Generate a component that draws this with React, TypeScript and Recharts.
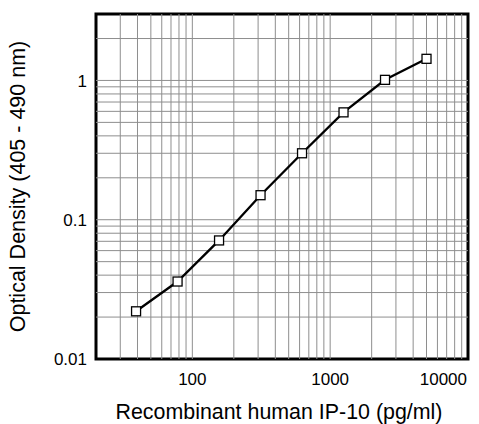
import React from "react"
import { LineChart, Line, XAxis, YAxis, ReferenceLine, ReferenceArea, Label } from "recharts"

// standard curve, IP-10 (pg/ml) vs optical density
const concentration = [39.06, 78.13, 156.25, 312.5, 625, 1250, 2500, 5000]
const opticalDensity = [0.022, 0.036, 0.071, 0.15, 0.3, 0.59, 1.01, 1.43]

const xTicks = [100, 1000, 10000]
const yTicks = [0.01, 0.1, 1]
const xGrid = [30, 40, 50, 60, 70, 80, 90, 100, 200, 300, 400, 500, 600, 700, 800, 900, 1000, 2000, 3000, 4000, 5000, 6000, 7000, 8000, 9000]
const yGrid = [0.02, 0.03, 0.04, 0.05, 0.06, 0.07, 0.08, 0.09, 0.1, 0.2, 0.3, 0.4, 0.5, 0.6, 0.7, 0.8, 0.9, 1, 2]

const data = concentration.map((c, i) => ({ conc: c, od: opticalDensity[i] }))

const W = 479
const H = 424
const FONT = "'Liberation Sans', Arial, Helvetica, sans-serif"

const XTick = (props: any) => {
  const { x, y, payload } = props
  // last label is pulled inside the picture, like in the original
  const last = payload.value === 10000
  return (
    <text
      x={last ? x + 8 : x}
      y={y}
      dy="0.71em"
      textAnchor={last ? "end" : "middle"}
      fontSize={17}
      fontFamily={FONT}
      fill="#000"
    >
      {payload.value}
    </text>
  )
}

const YTick = (props: any) => {
  const { x, y, payload } = props
  return (
    <text x={x - 1} y={y} dy="0.36em" textAnchor="end" fontSize={17} fontFamily={FONT} fill="#000">
      {payload.value}
    </text>
  )
}

const YTitle = (props: any) => {
  const vb = props.viewBox
  const cx = vb.x + 25
  const cy = vb.y + vb.height / 2
  return (
    <text
      x={cx}
      y={cy}
      transform={`rotate(-90, ${cx}, ${cy})`}
      textAnchor="middle"
      fontSize={21.5}
      fontFamily={FONT}
      fill="#000"
    >
      Optical Density (405 - 490 nm)
    </text>
  )
}

const SquareDot = (props: any) => {
  const { cx, cy, index } = props
  return (
    <rect key={`dot-${index}`} x={cx - 4.5} y={cy - 4.5} width={9} height={9} fill="#fff" stroke="#000" strokeWidth={1.3} />
  )
}

export default function App() {
  return (
    <div style={{ position: "absolute", left: 0, top: 0, width: W, height: H, background: "#fff" }}>
      <LineChart width={W} height={H} data={data} margin={{ top: 14, right: 11, left: 0, bottom: 0 }}>
        <XAxis
          dataKey="conc"
          type="number"
          scale="log"
          domain={[20, 10000]}
          allowDataOverflow
          ticks={xTicks}
          tick={<XTick />}
          tickLine={false}
          axisLine={false}
          tickMargin={8}
          height={65}
        >
          <Label
            value="Recombinant human IP-10 (pg/ml)"
            position="insideBottom"
            offset={5}
            dx={-3}
            fontSize={21.4}
            fontFamily={FONT}
            fill="#000"
          />
        </XAxis>
        <YAxis
          dataKey="od"
          type="number"
          scale="log"
          domain={[0.01, 3]}
          allowDataOverflow
          ticks={yTicks}
          tick={<YTick />}
          tickLine={false}
          axisLine={false}
          width={96}
          label={<YTitle />}
        />
        {xGrid.map((v) => (
          <ReferenceLine key={`vx-${v}`} x={v} stroke="#8e8e8e" strokeWidth={1} />
        ))}
        {yGrid.map((v) => (
          <ReferenceLine key={`hy-${v}`} y={v} stroke="#8e8e8e" strokeWidth={1} />
        ))}
        <ReferenceArea x1={20} x2={10000} y1={0.01} y2={3} fill="none" stroke="#000" strokeWidth={3} />
        <Line
          dataKey="od"
          type="linear"
          stroke="#000"
          strokeWidth={2.3}
          dot={<SquareDot />}
          activeDot={false}
          isAnimationActive={false}
        />
      </LineChart>
    </div>
  )
}
